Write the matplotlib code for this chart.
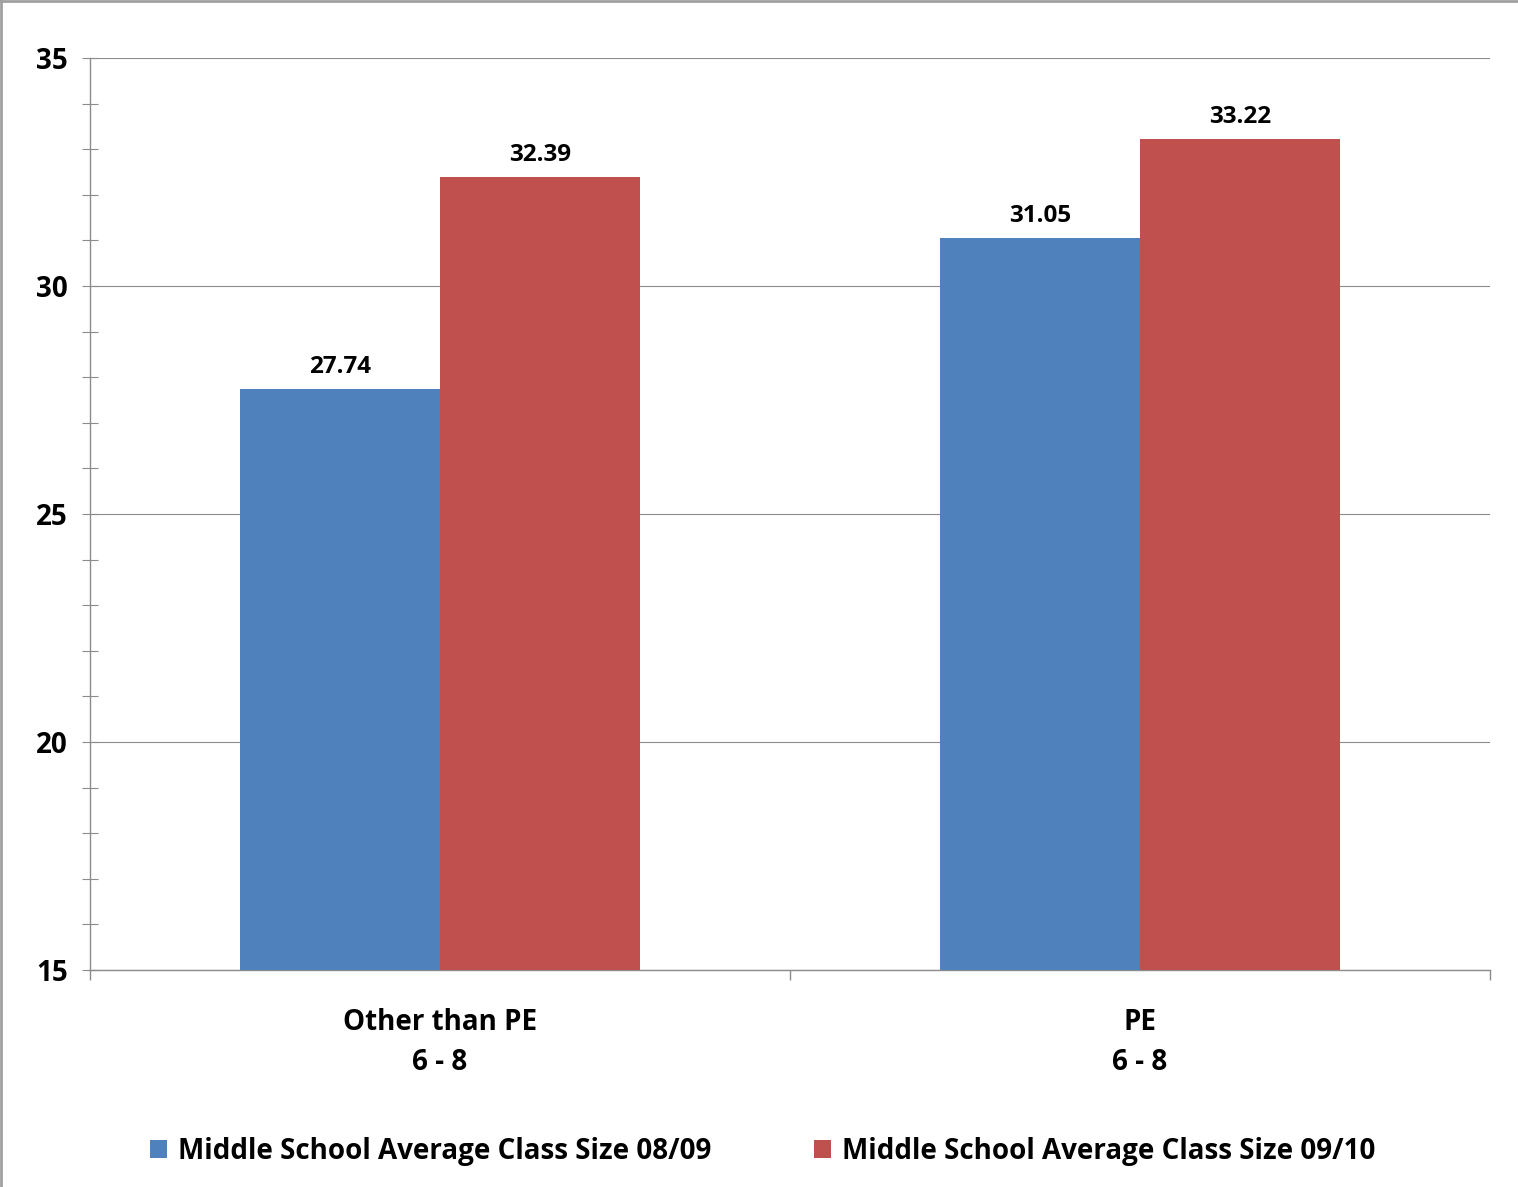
import matplotlib
matplotlib.use("Agg")
import matplotlib.pyplot as plt
import numpy as np
from matplotlib.lines import Line2D

plt.rcParams['font.family'] = ['Open Sans', 'DejaVu Sans']
plt.rcParams['font.weight'] = 'bold'

categories = ["Other than PE\n6 - 8", "PE\n6 - 8"]
series_names = ["Middle School Average Class Size 08/09",
                "Middle School Average Class Size 09/10"]
values_0809 = [27.74, 31.05]
values_0910 = [32.39, 33.22]
colors = ["#4F81BD", "#C0504D"]

W, H = 1518, 1187
fig = plt.figure(figsize=(W / 100, H / 100), dpi=100)
ax = fig.add_axes([90 / W, 1 - 970 / H, 1400 / W, 912 / H])

x = np.arange(len(categories))
bw = 200 / 700
b1 = ax.bar(x - bw / 2, values_0809, width=bw, color=colors[0], label=series_names[0], zorder=3)
b2 = ax.bar(x + bw / 2, values_0910, width=bw, color=colors[1], label=series_names[1], zorder=3)

for bars, vals in ((b1, values_0809), (b2, values_0910)):
    for r, v in zip(bars, vals):
        ax.annotate(f"{v:.2f}", (r.get_x() + r.get_width() / 2, v),
                    xytext=(0, 7), textcoords="offset points",
                    ha="center", va="bottom", fontsize=17.5, fontweight="bold")

ax.set_ylim(15, 35)
ax.set_xlim(-0.5, 1.5)
ax.set_yticks(np.arange(15, 36, 5))
ax.set_yticks(np.arange(15, 36, 1), minor=True)
ax.set_yticklabels([str(v) for v in range(15, 36, 5)], fontsize=20, fontweight="bold")

ax.set_xticks([-0.5, 0.5, 1.5])
ax.set_xticklabels([])
ax.set_xticks(x, minor=True)
ax.set_xticklabels(categories, minor=True, fontsize=20, fontweight="bold", linespacing=1.5)

grid_c = "#8C8C8C"
ax.grid(axis="y", which="major", color=grid_c, linewidth=0.8, zorder=0)
for s in ("top", "right"):
    ax.spines[s].set_visible(False)
for s in ("left", "bottom"):
    ax.spines[s].set_color(grid_c)
    ax.spines[s].set_linewidth(1.0)

ax.tick_params(axis="y", which="both", direction="inout", length=12, color=grid_c, width=0.8, pad=10)
ax.tick_params(axis="x", which="major", direction="out", length=7, color=grid_c, width=1.0)
ax.tick_params(axis="x", which="minor", length=0, pad=27)

leg = fig.legend(handles=[b1, b2], loc="center", bbox_to_anchor=(763 / W, 1 - 1151 / H),
                 ncol=2, frameon=False, handlelength=0.6, handleheight=0.6,
                 handletextpad=0.4, columnspacing=3.7, prop={'weight': 'bold', 'size': 20})

# outer frame (top and left)
fig.add_artist(Line2D([0, 1], [1 - 1 / H, 1 - 1 / H], transform=fig.transFigure, color="#A0A0A0", linewidth=2))
fig.add_artist(Line2D([1 / W, 1 / W], [0, 1], transform=fig.transFigure, color="#A0A0A0", linewidth=2))

fig.savefig("out.png", dpi=100)
